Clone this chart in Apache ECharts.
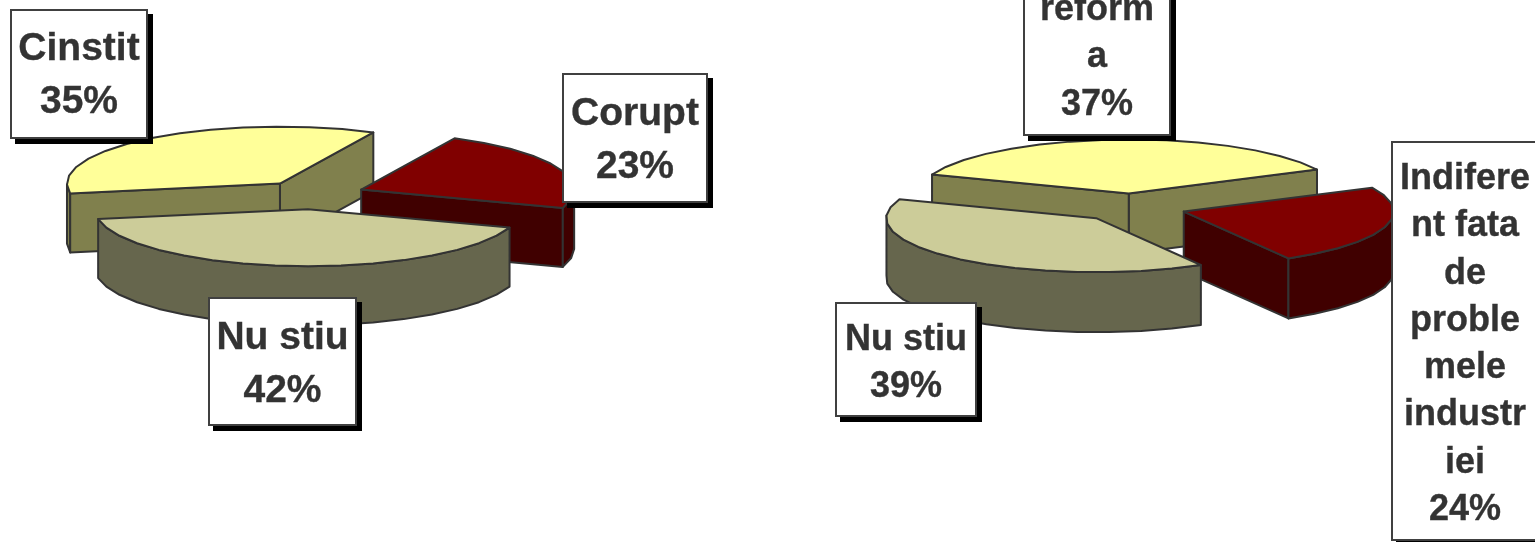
<!DOCTYPE html>
<html>
<head>
<meta charset="utf-8">
<style>html,body{margin:0;padding:0;background:#fff;overflow:hidden}#c{width:1535px;height:542px}</style>
<script src="https://cdn.jsdelivr.net/npm/echarts@6/dist/echarts.min.js"></script>
</head>
<body>
<div id="c"></div>
<script>
// Data
const leftNames = ['Cinstit', 'Corupt', 'Nu stiu'];
const leftValues = [35, 23, 42];
const rightNames = ['reforma', 'Indiferent fata de problemele industriei', 'Nu stiu'];
const rightValues = [37, 24, 39];
// Label line breaks, as wrapped in the picture
const leftLabelLines = [['Cinstit'], ['Corupt'], ['Nu stiu']];
const rightLabelLines = [['reform', 'a'], ['Indifere', 'nt fata', 'de', 'proble', 'mele', 'industr', 'iei'], ['Nu stiu']];

// Styles and layout
const topColors = ['#FFFF99', '#800000', '#CCCC99'];
const wallColors = ['#80804D', '#400000', '#66664D'];
const EDGE = '#333333';
const leftPie = { cx: 312, cy: 195, rx: 213, ry: 57, depth: 59, explode: 0.25, startAngle: 190 };
const rightPie = { cx: 1131.5, cy: 207.5, rx: 210, ry: 54, depth: 60, explode: 0.26, startAngle: 159.5 };
// firstY: centre of the first text line
const leftBoxes = [
  { x: 11, y: 10, w: 136, h: 128, fs: 39, lh: 53, firstY: 49 },
  { x: 563, y: 74, w: 144, h: 128, fs: 39, lh: 53, firstY: 114 },
  { x: 209, y: 298, w: 147, h: 127, fs: 39, lh: 53, firstY: 338 }
];
const rightBoxes = [
  { x: 1024, y: -50, w: 146, h: 185, fs: 36, lh: 47.5, firstY: 10 },
  { x: 1392, y: 142, w: 170, h: 398, fs: 36, lh: 47.3, firstY: 179, textCx: 1465 },
  { x: 836, y: 303, w: 140, h: 113, fs: 36, lh: 47, firstY: 340 }
];

const RAD = Math.PI / 180;

function pieSeries(values, pie) {
  const total = values.reduce((a, b) => a + b, 0);
  return {
    type: 'custom',
    coordinateSystem: 'none',
    silent: true,
    animation: false,
    clip: false,
    z: 2,
    data: values.map(v => [v]),
    renderItem(params, api) {
      const i = params.dataIndex;
      let before = 0;
      for (let k = 0; k < i; k++) before += values[k];
      const value = api.value(0);
      const a1 = pie.startAngle - before / total * 360;
      const a0 = a1 - value / total * 360;
      const mid = (a0 + a1) / 2;
      const ox = pie.cx + pie.explode * pie.rx * Math.cos(mid * RAD);
      const oy = pie.cy - pie.explode * pie.ry * Math.sin(mid * RAD);
      const apex = [ox, oy];
      const rim = [];
      const steps = Math.max(4, Math.round((a1 - a0) / 9));
      for (let s = 0; s <= steps; s++) {
        const a = a0 + (a1 - a0) * s / steps;
        rim.push([ox + pie.rx * Math.cos(a * RAD), oy - pie.ry * Math.sin(a * RAD)]);
      }
      const sections = [[apex, rim[0]], rim, [rim[rim.length - 1], apex]];
      const shape = pts => ({ points: pts });
      const children = [];
      sections.forEach(sec => {
        let run = [];
        const flush = () => {
          if (run.length > 1) {
            const low = run.slice().reverse().map(p => [p[0], p[1] + pie.depth]);
            children.push({
              type: 'polygon', shape: shape(run.concat(low)),
              style: { fill: wallColors[i], stroke: EDGE, lineWidth: 2, lineJoin: 'round' }
            });
          }
          run = [];
        };
        for (let e = 0; e < sec.length - 1; e++) {
          if (sec[e + 1][0] > sec[e][0]) {
            if (!run.length) run.push(sec[e]);
            run.push(sec[e + 1]);
          } else flush();
        }
        flush();
      });
      children.push({
        type: 'polygon', shape: shape([apex].concat(rim)),
        style: { fill: topColors[i], stroke: EDGE, lineWidth: 2, lineJoin: 'round' }
      });
      return { type: 'group', children };
    }
  };
}

function labelSeries(values, lines, boxes) {
  return {
    type: 'custom',
    coordinateSystem: 'none',
    silent: true,
    animation: false,
    clip: false,
    z: 5,
    data: values.map(v => [v]),
    renderItem(params, api) {
      const i = params.dataIndex;
      const b = boxes[i];
      const all = lines[i].concat([api.value(0) + '%']);
      const cx = b.textCx || b.x + b.w / 2;
      const children = [
        { type: 'rect', shape: { x: b.x + 4, y: b.y + 4, width: b.w + 2, height: b.h + 2 }, style: { fill: '#000000' } },
        { type: 'rect', shape: { x: b.x, y: b.y, width: b.w, height: b.h }, style: { fill: '#FFFFFF', stroke: '#404040', lineWidth: 2 } }
      ];
      all.forEach((t, k) => {
        children.push({
          type: 'text',
          style: {
            text: t, x: cx, y: b.firstY + k * b.lh,
            align: 'center', verticalAlign: 'middle',
            font: 'bold ' + b.fs + 'px "Liberation Sans", Arial, sans-serif',
            fill: '#333333', stroke: '#333333', lineWidth: 0.35
          }
        });
      });
      return { type: 'group', children };
    }
  };
}

const chart = echarts.init(document.getElementById('c'), null, { renderer: 'canvas' });
chart.setOption({
  backgroundColor: '#FFFFFF',
  animation: false,
  series: [
    pieSeries(leftValues, leftPie),
    pieSeries(rightValues, rightPie),
    labelSeries(leftValues, leftLabelLines, leftBoxes),
    labelSeries(rightValues, rightLabelLines, rightBoxes)
  ]
});
</script>
</body>
</html>
